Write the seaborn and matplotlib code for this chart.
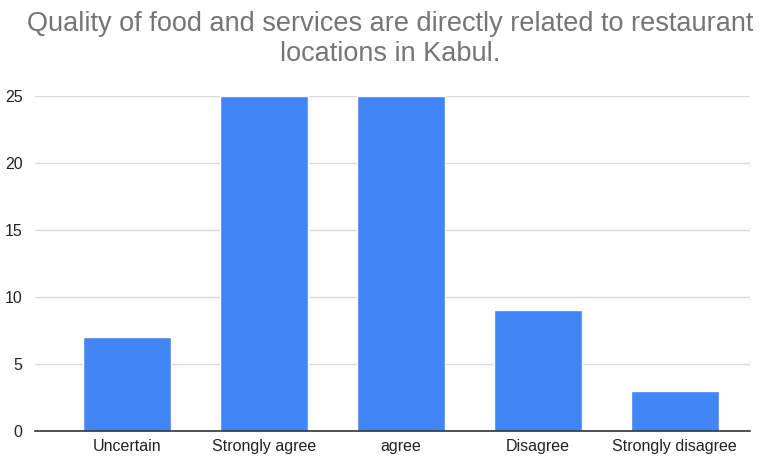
import matplotlib
matplotlib.use("Agg")
import matplotlib.pyplot as plt
import seaborn as sns
import pandas as pd

categories = ["Uncertain", "Strongly agree", "agree", "Disagree", "Strongly disagree"]
counts = [7, 25, 25, 9, 3]
y_ticks = [0, 5, 10, 15, 20, 25]

df = pd.DataFrame({"response": categories, "count": counts})

sns.set_theme(style="white")
plt.rcParams["font.family"] = ["Liberation Sans", "DejaVu Sans"]

fig = plt.figure(figsize=(7.6, 4.58), dpi=100)
ax = fig.add_axes([0.046, 0.059, 0.941, 0.731])

sns.barplot(data=df, x="response", y="count", color="#4285F4",
            saturation=1, width=0.645, ax=ax, zorder=3)

ax.set_ylim(0, 25)
ax.set_xlim(-0.67, 4.55)
ax.set_yticks(y_ticks)
ax.yaxis.grid(True, color="#d9d9d9", linewidth=1, zorder=0)
ax.set_axisbelow(True)

for s in ["top", "right", "left"]:
    ax.spines[s].set_visible(False)
ax.spines["bottom"].set_color("#333333")
ax.spines["bottom"].set_linewidth(1.2)
ax.spines["bottom"].set_zorder(4)

ax.tick_params(axis="both", length=0, labelsize=11.5, colors="#222222")
ax.tick_params(axis="y", pad=9)
ax.tick_params(axis="x", pad=6)
ax.set_xlabel("")
ax.set_ylabel("")

fig.suptitle("Quality of food and services are directly related to restaurant\nlocations in Kabul.",
             x=0.513, y=0.975, fontsize=19.5, color="#757575", linespacing=1.18)

fig.savefig("out.png", dpi=100, facecolor="white")
